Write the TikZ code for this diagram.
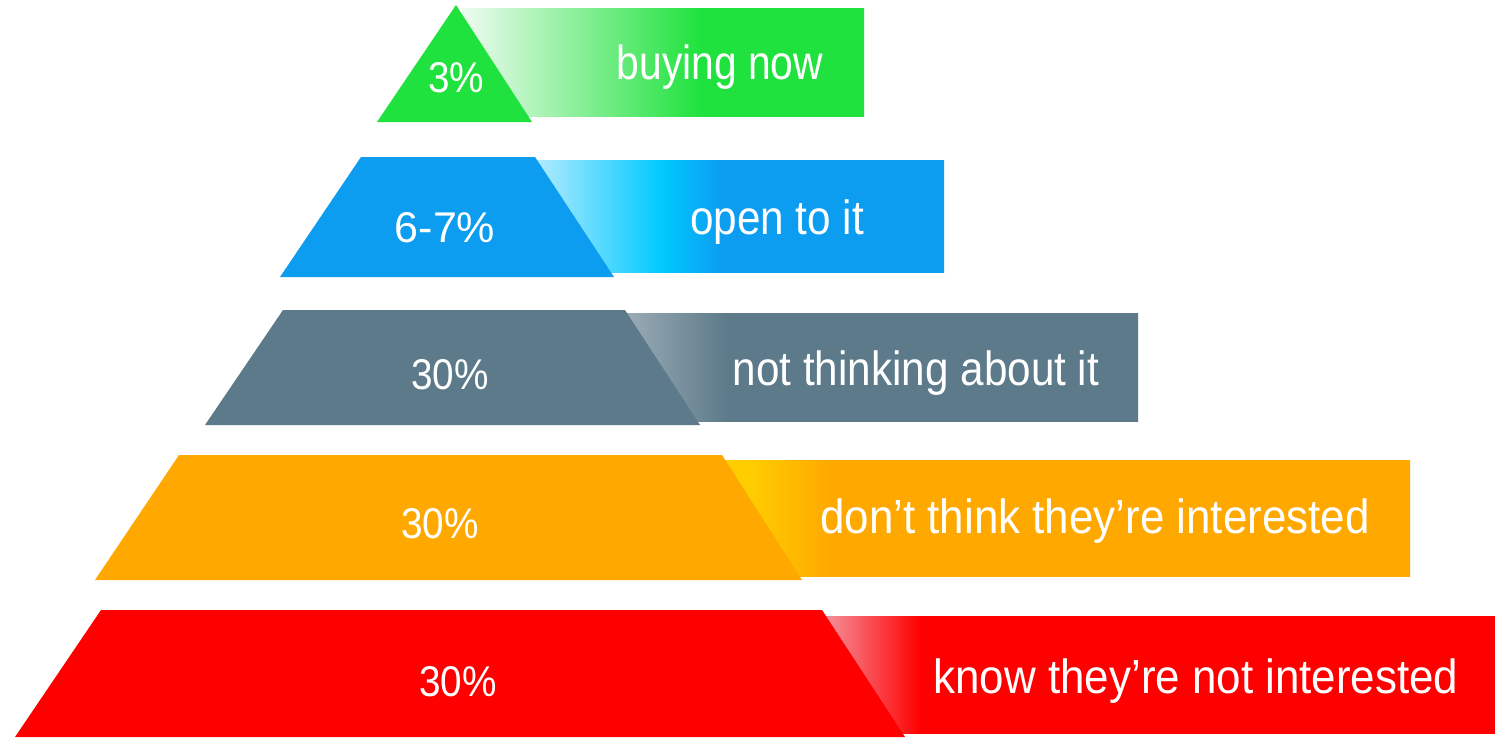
\documentclass[tikz,border=0pt]{standalone}
\usepackage{fontspec}
\setmainfont{Liberation Sans}
\newfontfamily\fnarrow[FakeStretch=0.85]{Liberation Sans}
\newfontfamily\fmid[FakeStretch=0.88]{Liberation Sans}
\newfontfamily\fwide[FakeStretch=0.915]{Liberation Sans}
\newfontfamily\fpct[FakeStretch=0.9]{Liberation Sans}
\definecolor{ggreen}{RGB}{32,226,62}
\definecolor{glight}{RGB}{238,251,240}
\definecolor{bblue}{RGB}{12,156,240}
\definecolor{bcyan}{RGB}{0,202,255}
\definecolor{blight}{RGB}{180,234,255}
\definecolor{slate}{RGB}{92,122,137}
\definecolor{slight}{RGB}{155,172,182}
\definecolor{oorange}{RGB}{255,168,0}
\definecolor{oyellow}{RGB}{255,205,0}
\definecolor{rred}{RGB}{255,0,0}
\definecolor{rpink}{RGB}{245,150,160}
\pgfdeclarehorizontalshading{greenbar}{100bp}{color(0bp)=(glight); color(25bp)=(glight); color(54.6bp)=(ggreen); color(100bp)=(ggreen)}
\pgfdeclarehorizontalshading{bluebar}{100bp}{color(0bp)=(blight); color(25bp)=(blight); color(40.5bp)=(bcyan); color(47.9bp)=(bblue); color(100bp)=(bblue)}
\pgfdeclarehorizontalshading{graybar}{100bp}{color(0bp)=(slight); color(25bp)=(slight); color(35bp)=(slate); color(100bp)=(slate)}
\pgfdeclarehorizontalshading{orangebar}{100bp}{color(0bp)=(oyellow); color(25bp)=(oyellow); color(27bp)=(oyellow); color(33bp)=(oorange); color(100bp)=(oorange)}
\pgfdeclarehorizontalshading{redbar}{100bp}{color(0bp)=(rpink); color(25bp)=(rpink); color(32.3bp)=(rred); color(100bp)=(rred)}
\begin{document}
\begin{tikzpicture}[x=1pt,y=-1pt,
  lbl/.style={text=white,anchor=base,inner sep=0pt},
  pct/.style={lbl,font=\fpct\fontsize{43}{43}\selectfont},
  txtn/.style={lbl,font=\fnarrow\fontsize{48}{48}\selectfont},
  txtm/.style={lbl,font=\fmid\fontsize{48}{48}\selectfont},
  txtw/.style={lbl,font=\fwide\fontsize{48}{48}\selectfont}]
\useasboundingbox (0,0) rectangle (1495,739);
\fill[white] (0,0) rectangle (1495,739);
% green layer
\shade[shading=greenbar] (462,8) rectangle (864,116);
\fill[ggreen] (456,5) -- (532,122) -- (377,122) -- cycle;
% blue layer
\shade[shading=bluebar] (535,160) rectangle (944,272);
\fill[bblue] (361,157) -- (535,157) -- (614,277) -- (280,277) -- cycle;
% gray layer
\shade[shading=graybar] (625,313) rectangle (1138,421);
\fill[slate] (283,310) -- (625,310) -- (700,425) -- (205,425) -- cycle;
% orange layer
\shade[shading=orangebar] (722,460) rectangle (1410,576);
\fill[oorange] (179,455) -- (722,455) -- (802,580) -- (95,580) -- cycle;
% red layer
\shade[shading=redbar] (822,616) rectangle (1495,733);
\fill[rred] (101,610) -- (822,610) -- (905,737) -- (15,737) -- cycle;
% labels
\node[pct] (p1) at (456,92) {3\%};
\node[txtn] (t1) at (720,79) {buying now};
\node[pct,font=\fontsize{43}{43}\selectfont] (p2) at (445,242) {6-7\%};
\node[txtm] (t2) at (777,234) {open to it};
\node[pct] (p3) at (450,389) {30\%};
\node[txtm] (t3) at (916,385) {not thinking about it};
\node[pct] (p4) at (440,538) {30\%};
\node[txtw] (t4) at (1095,533) {don’t think they’re interested};
\node[pct] (p5) at (458,696) {30\%};
\node[txtw] (t5) at (1196,693) {know they’re not interested};
\end{tikzpicture}
\end{document}
